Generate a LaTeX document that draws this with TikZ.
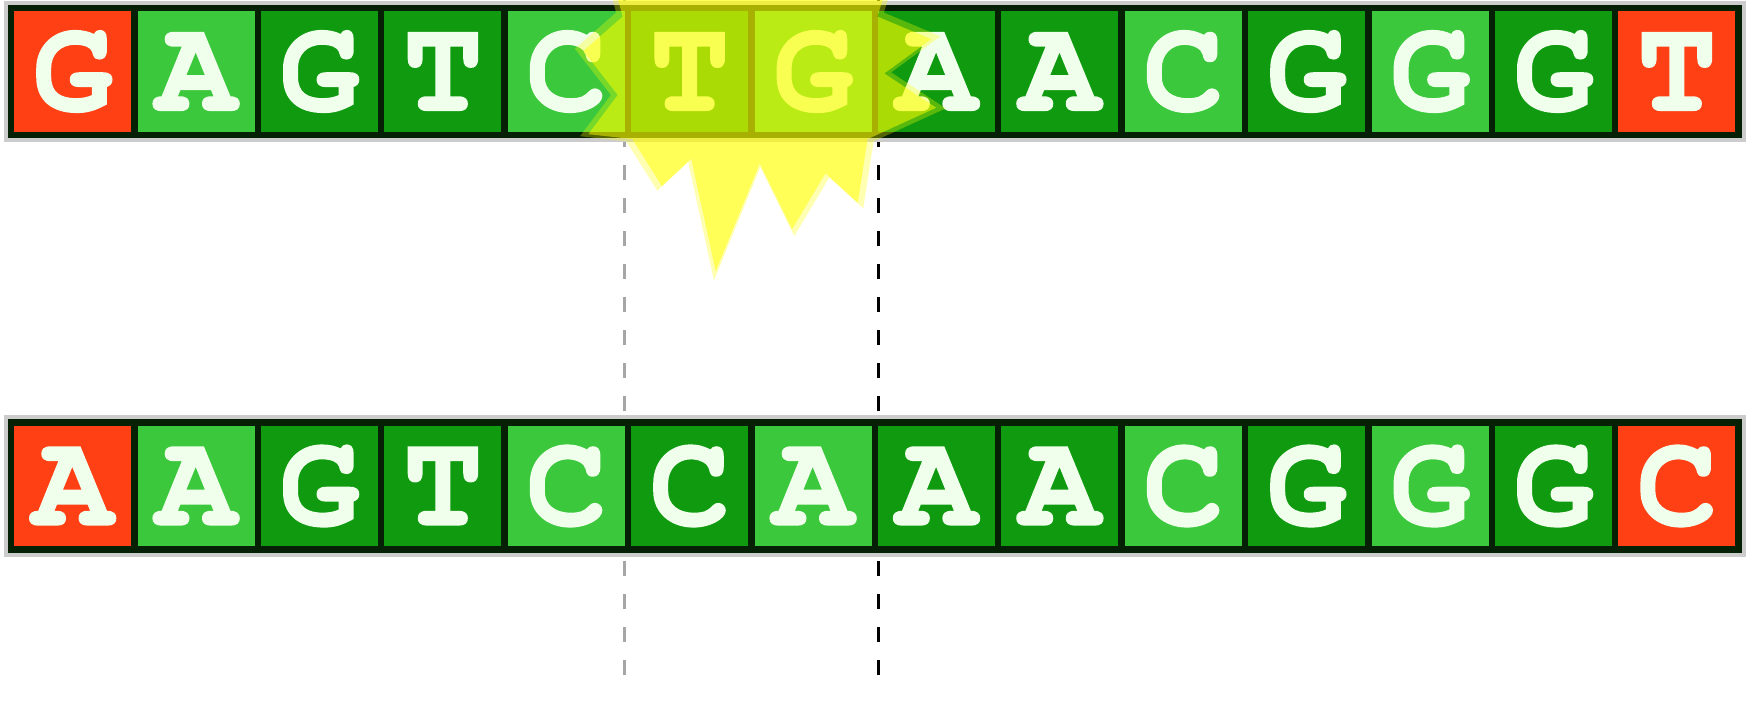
\documentclass[tikz,border=0pt]{standalone}
\usepackage{fontspec}
\usepackage{xcolor}
\usepackage{tikz}
\usetikzlibrary{fit,backgrounds}
\newfontfamily\seqfont{TeX Gyre Cursor}[BoldFeatures={FakeBold=1.2}]
\newcommand\seqsize{\fontsize{76pt}{76pt}\selectfont}
\definecolor{basered}{HTML}{FF3F14}
\definecolor{basedark}{HTML}{109A10}
\definecolor{baselight}{HTML}{3CC83C}
\definecolor{edge}{HTML}{062006}
\definecolor{letter}{HTML}{F0FFEC}
\definecolor{glow}{HTML}{FFFF00}

\begin{document}
\begin{tikzpicture}[x=0.2mm, y=-0.2mm,
  cell/.style={draw=edge, line width=1.3mm, minimum width=24.68mm, minimum height=25.4mm, inner sep=0pt, font=\seqfont\bfseries\seqsize, text=letter},
  rim/.style={draw=gray!40, line width=0.8mm, inner sep=0.4mm},
  cut/.style={line width=0.6mm, dash pattern=on 3mm off 3.6mm},
  burst/.style={fill=glow, opacity=#1}]
\useasboundingbox (0,0) rectangle (1751,723);
\foreach \ch/\fc [count=\i] in {G/basered,A/baselight,G/basedark,T/basedark,C/baselight,T/basedark,G/baselight,A/basedark,A/basedark,C/baselight,G/basedark,G/baselight,G/basedark,T/basered}
  \node[cell, fill=\fc] (t\i) at ({11+(\i-0.5)*123.4},71.5) {\ch};
\foreach \ch/\fc [count=\i] in {A/basered,A/baselight,G/basedark,T/basedark,C/baselight,C/basedark,A/baselight,A/basedark,A/basedark,C/baselight,G/basedark,G/baselight,G/basedark,C/basered}
  \node[cell, fill=\fc] (b\i) at ({11+(\i-0.5)*123.4},486) {\ch};
\node[rim, fit=(t1)(t14)] (toprim) {};
\node[rim, fit=(b1)(b14)] (botrim) {};
\coordinate (cutLtop) at (t6.north west |- 0,0);
\coordinate (cutLend) at (b6.south west |- 0,683);
\coordinate (cutRtop) at (t7.north east |- 0,0);
\coordinate (cutRend) at (b7.south east |- 0,683);
\begin{scope}[on background layer]
\fill[white] (0,0) rectangle (1751,723);
\draw[cut, gray!70] (cutLtop) -- (cutLend);
\draw[cut, black] (cutRtop) -- (cutRend);
\end{scope}
\begin{scope}
\clip (0,0) rectangle (1751,723);
\foreach \s/\o in {1.03/0.3, 0.98/0.5}
  \fill[burst=\o, scale around={\s:(750,95)}] (935,38) -- (887,73) -- (940,108) -- (870,140) -- (860,205) -- (827,175) -- (793,232) -- (760,165) -- (715,275) -- (690,160) -- (660,188) -- (630,140) -- (585,135) -- (615,95) -- (580,50) -- (620,15) -- (600,-60) -- (680,-20) -- (750,-90) -- (820,-20) -- (900,-50) -- (880,15) -- cycle;
\end{scope}
\end{tikzpicture}
\end{document}
